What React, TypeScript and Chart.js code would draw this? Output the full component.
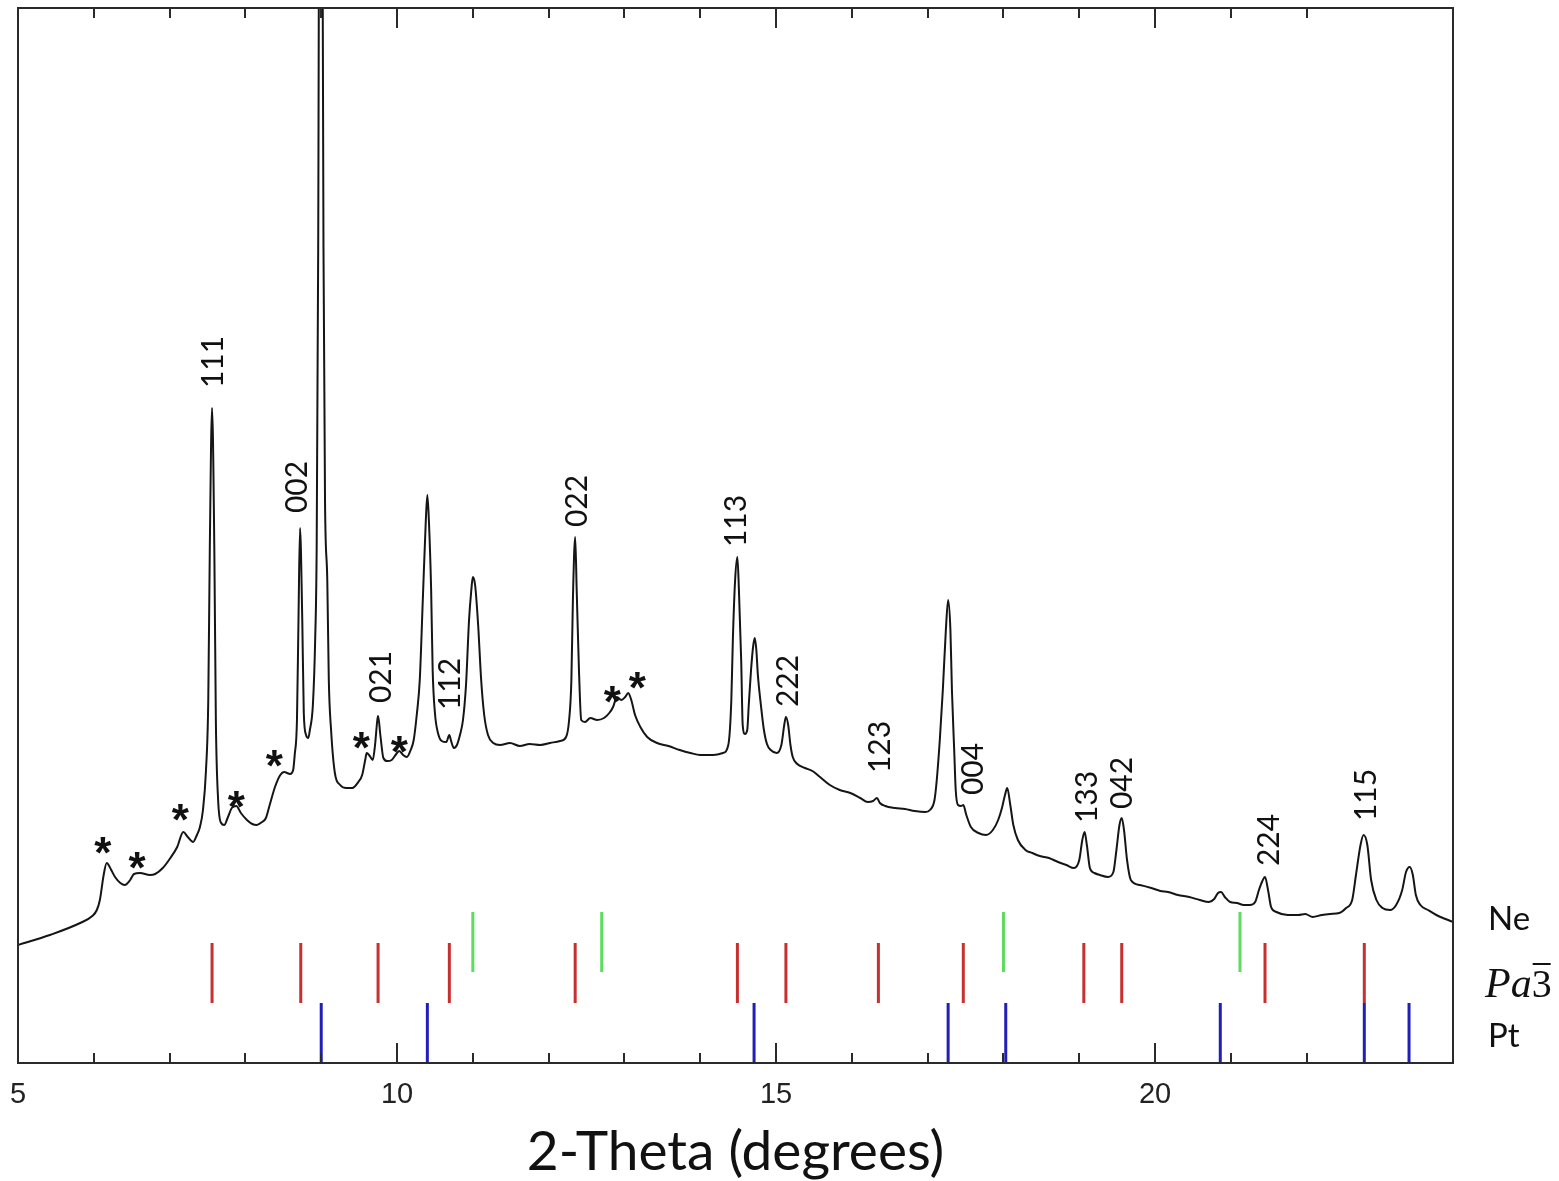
import { useEffect, useRef } from "react";
import { Chart, registerables } from "chart.js";

Chart.register(...registerables);

// ---- measured diffraction pattern (2-theta in degrees, intensity in arbitrary units) ----
const twoTheta = [
  5.0, 5.42, 5.82, 5.98, 6.04, 6.08, 6.13, 6.17, 6.23, 6.28, 6.35, 6.41, 6.48, 6.53, 6.61, 6.74, 6.81, 6.91,
  7.01, 7.1, 7.18, 7.24, 7.31, 7.36, 7.4, 7.44, 7.48, 7.51, 7.53, 7.56, 7.59, 7.61, 7.64, 7.68, 7.72, 7.77,
  7.82, 7.88, 7.94, 8.02, 8.09, 8.15, 8.22, 8.27, 8.32, 8.39, 8.46, 8.51, 8.59, 8.63, 8.65, 8.68, 8.7, 8.72,
  8.75, 8.77, 8.8, 8.83, 8.85, 8.89, 8.92, 8.94, 8.96, 8.99, 9.03, 9.05, 9.08, 9.1, 9.13, 9.18, 9.25, 9.33,
  9.41, 9.49, 9.54, 9.58, 9.6, 9.64, 9.68, 9.71, 9.74, 9.75, 9.78, 9.82, 9.87, 9.93, 9.99, 10.03, 10.08,
  10.13, 10.18, 10.22, 10.26, 10.3, 10.34, 10.38, 10.4, 10.42, 10.45, 10.47, 10.5, 10.54, 10.59, 10.65,
  10.69, 10.71, 10.75, 10.79, 10.83, 10.87, 10.91, 10.95, 10.98, 11.0, 11.03, 11.07, 11.11, 11.15, 11.2,
  11.27, 11.36, 11.49, 11.62, 11.75, 11.89, 12.02, 12.15, 12.23, 12.27, 12.3, 12.32, 12.35, 12.37, 12.4,
  12.43, 12.48, 12.55, 12.64, 12.73, 12.8, 12.85, 12.9, 12.96, 13.01, 13.05, 13.09, 13.14, 13.21, 13.3,
  13.43, 13.58, 13.73, 13.87, 14.0, 14.17, 14.3, 14.37, 14.41, 14.43, 14.46, 14.49, 14.51, 14.54, 14.56,
  14.59, 14.62, 14.64, 14.67, 14.7, 14.72, 14.74, 14.76, 14.8, 14.84, 14.88, 14.93, 15.01, 15.07, 15.11,
  15.13, 15.16, 15.19, 15.22, 15.28, 15.38, 15.48, 15.58, 15.71, 15.84, 15.98, 16.11, 16.21, 16.28, 16.33,
  16.37, 16.44, 16.57, 16.7, 16.83, 16.97, 17.03, 17.09, 17.12, 17.16, 17.2, 17.24, 17.27, 17.3, 17.32,
  17.35, 17.37, 17.4, 17.44, 17.47, 17.51, 17.57, 17.67, 17.77, 17.86, 17.93, 17.98, 18.02, 18.05, 18.09,
  18.13, 18.19, 18.29, 18.38, 18.48, 18.6, 18.72, 18.83, 18.93, 19.0, 19.04, 19.07, 19.1, 19.14, 19.2,
  19.27, 19.38, 19.45, 19.49, 19.53, 19.56, 19.59, 19.63, 19.68, 19.8, 19.95, 20.07, 20.17, 20.3, 20.45,
  20.59, 20.71, 20.78, 20.83, 20.87, 20.92, 20.99, 21.08, 21.17, 21.25, 21.32, 21.37, 21.41, 21.45, 21.49,
  21.53, 21.6, 21.75, 21.89, 21.98, 22.08, 22.2, 22.31, 22.43, 22.52, 22.6, 22.65, 22.71, 22.75, 22.8,
  22.85, 22.92, 23.0, 23.1, 23.18, 23.26, 23.31, 23.36, 23.4, 23.44, 23.5, 23.6, 23.71, 23.83, 23.93,
];

const intensity = [
  118, 128, 140, 147, 153, 163, 188, 200, 193, 186, 180, 178, 183, 189, 190, 188, 189, 195,
  205, 216, 231, 226, 221, 228, 236, 253, 293, 363, 513, 655, 513, 343, 263, 240, 238, 246,
  255, 257, 250, 243, 239, 238, 241, 245, 258, 276, 288, 291, 289, 293, 308, 343, 443, 535,
  443, 350, 328, 325, 333, 358, 423, 516, 813, 1663, 813, 563, 483, 383, 333, 290, 278, 275,
  275, 281, 288, 303, 310, 307, 303, 318, 343, 347, 328, 305, 302, 303, 309, 312, 308,
  306, 313, 323, 348, 383, 463, 543, 568, 543, 473, 393, 350, 330, 322, 321,
  328, 323, 315, 318, 328, 343, 378, 443, 473, 486, 478, 438, 383, 348, 328,
  320, 318, 320, 317, 319, 318, 320, 322, 326, 343, 383, 463, 526, 473, 393,
  343, 341, 345, 343, 345, 350, 356, 366, 363, 366, 370, 363, 348, 336, 326,
  320, 317, 313, 310, 308, 308, 310, 318, 363, 423, 483, 506, 473, 403, 338,
  329, 333, 358, 393, 418, 425, 413, 388, 358, 333, 319, 313, 310, 318, 339,
  346, 338, 318, 306, 299, 295, 292, 286, 278, 273, 270, 265, 261, 262, 265,
  260, 257, 255, 254, 252, 251, 253, 263, 283, 323, 373, 433, 463, 433, 373,
  313, 273, 258, 257, 258, 248, 236, 230, 228, 233, 243, 255, 268, 275, 258,
  238, 223, 213, 210, 207, 205, 201, 198, 195, 203, 223, 231, 218, 195, 190,
  188, 186, 191, 213, 238, 245, 233, 203, 183, 178, 175, 172, 171, 168, 166,
  163, 161, 164, 170, 171, 166, 161, 160, 158, 158, 161, 173, 181, 186, 173,
  156, 151, 148, 148, 149, 146, 148, 149, 150, 155, 163, 188, 218, 228, 218,
  183, 163, 155, 153, 158, 173, 191, 196, 188, 168, 158, 153, 148, 144, 141,
];

// ---- reference reflection positions (2-theta, degrees) ----
const neLines = [11.0, 12.7, 18.0, 21.12];
const pa3Lines = [7.56, 8.73, 9.75, 10.69, 12.35, 14.49, 15.13, 16.35, 17.47, 19.06, 19.56, 21.45, 22.76];
const ptLines = [9.0, 10.4, 14.71, 17.27, 18.03, 20.86, 22.76, 23.35];

// tick-row bands (intensity units) for each phase
const neRow = [91, 151];
const pa3Row = [60, 120];
const ptRow = [0, 60];

// ---- hkl annotations ----
const hklLabels = ["111", "002", "021", "112", "022", "113", "222", "123", "004", "133", "042", "224", "115"];
const hklX = [7.56, 8.68, 9.78, 10.69, 12.37, 14.46, 15.15, 16.37, 17.59, 19.09, 19.56, 21.49, 22.77];
const hklY = [701, 576, 386, 379, 562, 542, 382, 316, 294, 266, 280, 223, 268];

// ---- unidentified peaks (*) ----
const starX = [6.12, 6.57, 7.14, 7.88, 8.38, 9.53, 10.03, 12.84, 13.17];
const starY = [220, 205, 253, 266, 307, 325, 321, 371, 385];

// ---- axis ----
const xMin = 5;
const xMax = 23.93;
const yMin = 0;
const yMax = 1055;
const xTitle = "2-Theta (degrees)";

function phaseData(lines: number[], row: number[]) {
  const out: { x: number; y: number | null }[] = [];
  lines.forEach((v) => {
    out.push({ x: v, y: row[0] });
    out.push({ x: v, y: row[1] });
    out.push({ x: v, y: null });
  });
  return out;
}

const overlay = {
  id: "overlay",
  afterDatasetsDraw(chart: any) {
    const { ctx, chartArea: a, scales } = chart;
    const x = scales.x;
    const y = scales.y;
    ctx.save();

    // frame
    ctx.strokeStyle = "#2a2a2a";
    ctx.lineWidth = 2;
    ctx.strokeRect(a.left, a.top, a.right - a.left, a.bottom - a.top);

    // inward ticks top & bottom
    ctx.beginPath();
    for (const t of x.ticks) {
      const v = t.value;
      if (Math.abs(v - Math.round(v)) > 1e-6) continue;
      const px = Math.round(x.getPixelForValue(v));
      const len = Math.round(v) % 5 === 0 ? 20 : 10;
      ctx.moveTo(px, a.bottom);
      ctx.lineTo(px, a.bottom - len);
      ctx.moveTo(px, a.top);
      ctx.lineTo(px, a.top + len);
    }
    ctx.stroke();

    // hkl labels (rotated)
    ctx.fillStyle = "#111";
    ctx.font = "30px Lato";
    ctx.textAlign = "center";
    ctx.textBaseline = "alphabetic";
    hklLabels.forEach((t, i) => {
      const px = x.getPixelForValue(hklX[i]);
      const py = y.getPixelForValue(hklY[i]);
      ctx.save();
      ctx.translate(px, py);
      ctx.rotate(-Math.PI / 2);
      ctx.fillText(t, 0, 10.5);
      ctx.restore();
    });

    // stars
    ctx.font = "bold 44px 'Liberation Sans'";
    starX.forEach((sx, i) => {
      const px = x.getPixelForValue(sx);
      const py = y.getPixelForValue(starY[i]);
      ctx.fillText("*", px, py + 25);
    });

    // phase names
    const lx = a.right + 35;
    ctx.textAlign = "left";
    ctx.font = "33px Lato";
    ctx.fillText("Ne", lx, y.getPixelForValue(133));
    ctx.fillText("Pt", lx, y.getPixelForValue(16));
    const pb = y.getPixelForValue(66);
    ctx.font = "italic 42px 'Liberation Serif'";
    ctx.fillText("Pa", lx - 3, pb);
    const wPa = ctx.measureText("Pa").width;
    ctx.font = "40px 'Liberation Serif'";
    const w3 = ctx.measureText("3").width;
    const x3 = lx - 3 + wPa;
    ctx.fillText("3", x3, pb);
    ctx.lineWidth = 2;
    ctx.strokeStyle = "#111";
    ctx.beginPath();
    ctx.moveTo(x3 + 1, pb - 33);
    ctx.lineTo(x3 + w3 - 1, pb - 33);
    ctx.stroke();

    ctx.restore();
  },
};

export default function App() {
  const ref = useRef<HTMLCanvasElement>(null);
  useEffect(() => {
    document.body.style.margin = "0";
    const mainData = twoTheta.map((t, i) => ({ x: t, y: intensity[i] }));
    const chart = new Chart(ref.current as HTMLCanvasElement, {
      type: "line",
      data: {
        datasets: [
          {
            label: "pattern",
            data: mainData,
            borderColor: "#151515",
            borderWidth: 2,
            pointRadius: 0,
            cubicInterpolationMode: "monotone",
          },
          {
            label: "Ne",
            data: phaseData(neLines, neRow),
            borderColor: "#5fdc5f",
            borderWidth: 3,
            pointRadius: 0,
            tension: 0,
            spanGaps: false,
          },
          {
            label: "Pa3",
            data: phaseData(pa3Lines, pa3Row),
            borderColor: "#c83030",
            borderWidth: 3,
            pointRadius: 0,
            tension: 0,
            spanGaps: false,
          },
          {
            label: "Pt",
            data: phaseData(ptLines, ptRow),
            borderColor: "#2020b8",
            borderWidth: 3,
            pointRadius: 0,
            tension: 0,
            spanGaps: false,
          },
        ],
      } as any,
      options: {
        responsive: false,
        animation: false,
        devicePixelRatio: 1,
        layout: { padding: { left: 18, right: 106, top: 8, bottom: 0 } },
        plugins: { legend: { display: false }, tooltip: { enabled: false } },
        scales: {
          x: {
            type: "linear",
            min: xMin,
            max: xMax,
            grid: { display: false },
            border: { display: false },
            ticks: {
              stepSize: 1,
              autoSkip: false,
              maxRotation: 0,
              padding: 7,
              color: "#222",
              font: { family: "'Liberation Sans'", size: 29 },
              callback: (v: any) => (Math.abs(v % 5) < 1e-6 ? String(v) : ""),
            },
            title: {
              display: true,
              text: xTitle,
              color: "#111",
              font: { family: "Lato", size: 55, lineHeight: 1 },
              padding: { top: 0, bottom: 1.5 },
            },
            afterFit: (s: any) => {
              s.height = 118;
            },
          },
          y: {
            type: "linear",
            min: yMin,
            max: yMax,
            display: false,
          },
        },
      } as any,
      plugins: [overlay],
    });
    return () => chart.destroy();
  }, []);
  return (
    <div style={{ width: 1559, height: 1181 }}>
      <canvas ref={ref} width={1559} height={1181} style={{ display: "block" }} />
    </div>
  );
}
